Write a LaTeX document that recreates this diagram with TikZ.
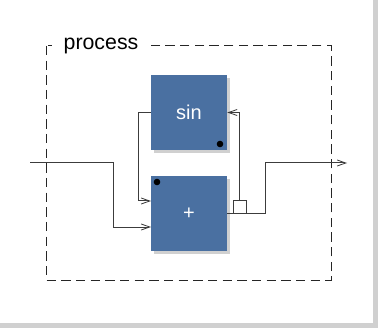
\documentclass[tikz,border=0pt]{standalone}
\usepackage{fontspec}
\setmainfont{Liberation Sans}
\usetikzlibrary{arrows.meta}
\definecolor{azulbloque}{RGB}{74,112,161}
\definecolor{sombra}{RGB}{208,208,208}
\definecolor{linea}{RGB}{60,60,60}

\tikzset{
  bloque/.style={fill=azulbloque, text=white, minimum width=57pt, minimum height=56.25pt, inner sep=0pt, font=\fontsize{15}{18}\selectfont},
  sombrabloque/.style={fill=sombra},
  cable/.style={draw=linea, line width=0.75pt},
  flecha/.style={cable, -{Straight Barb[length=6.5pt,width=4.5pt,line width=0.6pt]}},
  marco/.style={draw=black!85, line width=0.75pt, dash pattern=on 7pt off 4pt},
  punto/.style={fill=black}
}

\begin{document}
\begin{tikzpicture}[x=0.75pt,y=-0.75pt]
\useasboundingbox (0,0) rectangle (379,328);

%   fondo
\fill[white] (0,0) rectangle (379,328);
\fill[sombra] (373,0) rectangle (378,328);
\fill[sombra] (0,323) rectangle (378,328);

%   marco del proceso
\draw[marco] (46,46) rectangle (331,280);
\node[fill=white, inner xsep=9pt, inner ysep=2pt, font=\fontsize{16}{19}\selectfont] (titulo) at (101,46) {process};

%   bloques
\fill[sombrabloque] (154,78) rectangle (230,153);
\fill[sombrabloque] (154,179) rectangle (230,254);
\node[bloque] (sinbox) at (189,112.5) {sin};
\node[bloque] (sumbox) at (189,213.5) {+};
\fill[punto] (220,144) circle (3.3);
\fill[punto] (157,182) circle (3.3);

%   puertos
\coordinate (entrada) at (30,163);
\coordinate (salida) at (347,163);
\coordinate (sumin1) at (151,201);
\coordinate (sumin2) at (151,227);
\node[draw=linea, line width=0.75pt, minimum size=9.75pt, inner sep=0pt, anchor=south] (rama) at (239.5,214) {};

%   flechas
\draw[flecha] (entrada) -- (113,163) |- (sumin2);
\draw[flecha] (sinbox.west) -- (138,112.5) |- (sumin1);
\draw[flecha] (rama.north) |- (sinbox.east);
\draw[flecha] (sumbox.east) -- (265,213.5) |- (salida);

\end{tikzpicture}
\end{document}
